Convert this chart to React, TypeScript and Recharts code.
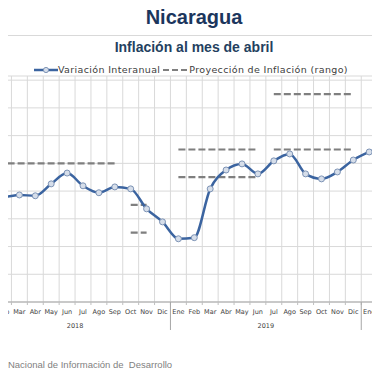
import { LineChart, Line, XAxis, YAxis, CartesianGrid } from "recharts"

const meses = ["Ene", "Feb", "Mar", "Abr", "May", "Jun", "Jul", "Ago", "Sep", "Oct", "Nov", "Dic",
  "Ene", "Feb", "Mar", "Abr", "May", "Jun", "Jul", "Ago", "Sep", "Oct", "Nov", "Dic",
  "Ene", "Feb"]
const anios = ["2018", "2018", "2018", "2018", "2018", "2018", "2018", "2018", "2018", "2018", "2018", "2018",
  "2019", "2019", "2019", "2019", "2019", "2019", "2019", "2019", "2019", "2019", "2019", "2019",
  "2020", "2020"]
const variacion = [5.22, 4.79, 4.86, 4.83, 5.26, 5.65, 5.19, 4.94, 5.15, 5.08, 4.36, 3.89,
  3.28, 3.32, 5.08, 5.76, 5.98, 5.62, 6.09, 6.34, 5.62, 5.44, 5.69, 6.12,
  6.41, 6.63]

// proyección de inflación por tramos (índice de mes inicial y final)
const proyInicio = [0, 9, 12, 18]
const proyFin = [8, 10, 17, 23]
const proyAlta = [6, 4.5, 6.5, 8.5]
const proyBaja = [null, 3.5, 5.5, 6.5]

const yTicks = [1, 2, 3, 4, 5, 6, 7, 8, 9]
const Y_MIN = 1
const Y_MAX = 9.15

const data = meses.map((m, i) => {
  const row: any = { idx: i, mes: m, anio: anios[i], variacion: variacion[i] }
  proyInicio.forEach((ini, s) => {
    const dentro = i >= ini && i <= proyFin[s]
    row["alta" + s] = dentro ? proyAlta[s] : null
    row["baja" + s] = dentro ? proyBaja[s] : null
  })
  return row
})

// ventana visible del eje (el gráfico original está recortado a los lados)
const CAT_W = 15.9
const D0 = 1 - 3.5 / CAT_W
const D1 = D0 + 380 / CAT_W
const xTicks = data.map((d) => d.idx).filter((v) => v >= D0 && v <= D1)

const MesTick = (props: any) => {
  const { x, y, payload } = props
  const d = data[payload.value]
  const left = x - CAT_W / 2
  return (
    <g>
      <line x1={left} x2={left} y1={y} y2={y + 3} stroke="#BFBFBF" />
      {d.mes === "Ene" && <line x1={left} x2={left} y1={y} y2={y + 28} stroke="#A6A6A6" />}
      <text x={x} y={y + 12} textAnchor="middle" fontSize={6.5} fill="#404040" fontFamily="DejaVu Sans">
        {d.mes}
      </text>
      {d.mes === "Jun" && (
        <text x={x + CAT_W / 2} y={y + 26} textAnchor="middle" fontSize={6.5} fill="#404040" fontFamily="DejaVu Sans">
          {d.anio}
        </text>
      )}
    </g>
  )
}

const proyKeys = proyInicio.flatMap((_, s) => ["alta" + s, "baja" + s])

const App = () => {
  return (
    <div style={{ position: "relative", width: 380, height: 380, overflow: "hidden", margin: -8, background: "#fff" }}>
      <div style={{ position: "absolute", top: 6, left: 0, width: 388, textAlign: "center", fontFamily: "Liberation Sans", fontWeight: "bold", fontSize: 20, color: "#1B365D" }}>
        Nicaragua
      </div>
      <div style={{ position: "absolute", top: 35, left: 0, width: 380, height: 1, background: "#D9D9D9" }} />
      <div style={{ position: "absolute", top: 39, left: 0, width: 388, textAlign: "center", fontFamily: "Liberation Sans", fontWeight: "bold", fontSize: 14, color: "#243F60" }}>
        Inflación al mes de abril
      </div>
      <div style={{ position: "absolute", left: 0, top: 0 }}>
        <LineChart
          width={380}
          height={380}
          data={data}
          margin={{ top: 76, right: 0, bottom: 48, left: 0 }}
        >
          <CartesianGrid
            stroke="#D9D9D9"
            horizontalCoordinatesGenerator={({ offset }: any) =>
              [Y_MAX, ...yTicks].map((v) => offset.top + ((Y_MAX - v) / (Y_MAX - Y_MIN)) * offset.height)
            }
            verticalCoordinatesGenerator={({ offset }: any) =>
              data.map((d) => offset.left + ((d.idx + 0.5 - D0) / (D1 - D0)) * offset.width)
            }
          />
          <XAxis
            dataKey="idx"
            type="number"
            domain={[D0, D1]}
            allowDataOverflow
            ticks={xTicks}
            interval={0}
            height={30}
            tickLine={false}
            tickSize={0}
            tickMargin={0}
            axisLine={{ stroke: "#A6A6A6" }}
            tick={<MesTick />}
          />
          <YAxis hide domain={[Y_MIN, Y_MAX]} ticks={yTicks} allowDataOverflow />
          {proyKeys.map((k) => (
            <Line key={k} dataKey={k} type="linear" stroke="#7F7F7F" strokeWidth={2.2} strokeDasharray="7 3" dot={false} isAnimationActive={false} />
          ))}
          <Line
            dataKey="variacion"
            type="monotone"
            stroke="#3B64A0"
            strokeWidth={2.5}
            dot={{ r: 3, fill: "#D6DEEA", stroke: "#7D93B5", strokeWidth: 1 }}
            isAnimationActive={false}
          />
        </LineChart>
      </div>
      <div style={{ position: "absolute", top: 65, left: 34, display: "flex", alignItems: "center", fontFamily: "DejaVu Sans", fontSize: 9.5, letterSpacing: 0.35, color: "#404040", whiteSpace: "nowrap", lineHeight: "10px" }}>
        <svg width={24} height={10}>
          <line x1={0} x2={24} y1={5} y2={5} stroke="#3B64A0" strokeWidth={2.5} />
          <circle cx={12} cy={5} r={2.6} fill="#D6DEEA" stroke="#7D93B5" />
        </svg>
        <span>Variación Interanual</span>
        <svg width={26} height={10} style={{ marginLeft: 3 }}>
          <line x1={0} x2={26} y1={5} y2={5} stroke="#7F7F7F" strokeWidth={2} strokeDasharray="6 3" />
        </svg>
        <span>Proyección de Inflación (rango)</span>
      </div>
      <div style={{ position: "absolute", top: 343, left: 1, fontFamily: "Liberation Sans", fontSize: 10, color: "#7F7F7F" }}>:</div>
      <div style={{ position: "absolute", top: 359, left: 0, fontFamily: "Liberation Sans", fontSize: 9.5, color: "#7F7F7F", whiteSpace: "nowrap" }}>
        o Nacional de Información de&nbsp; Desarrollo
      </div>
    </div>
  )
}

export default App
